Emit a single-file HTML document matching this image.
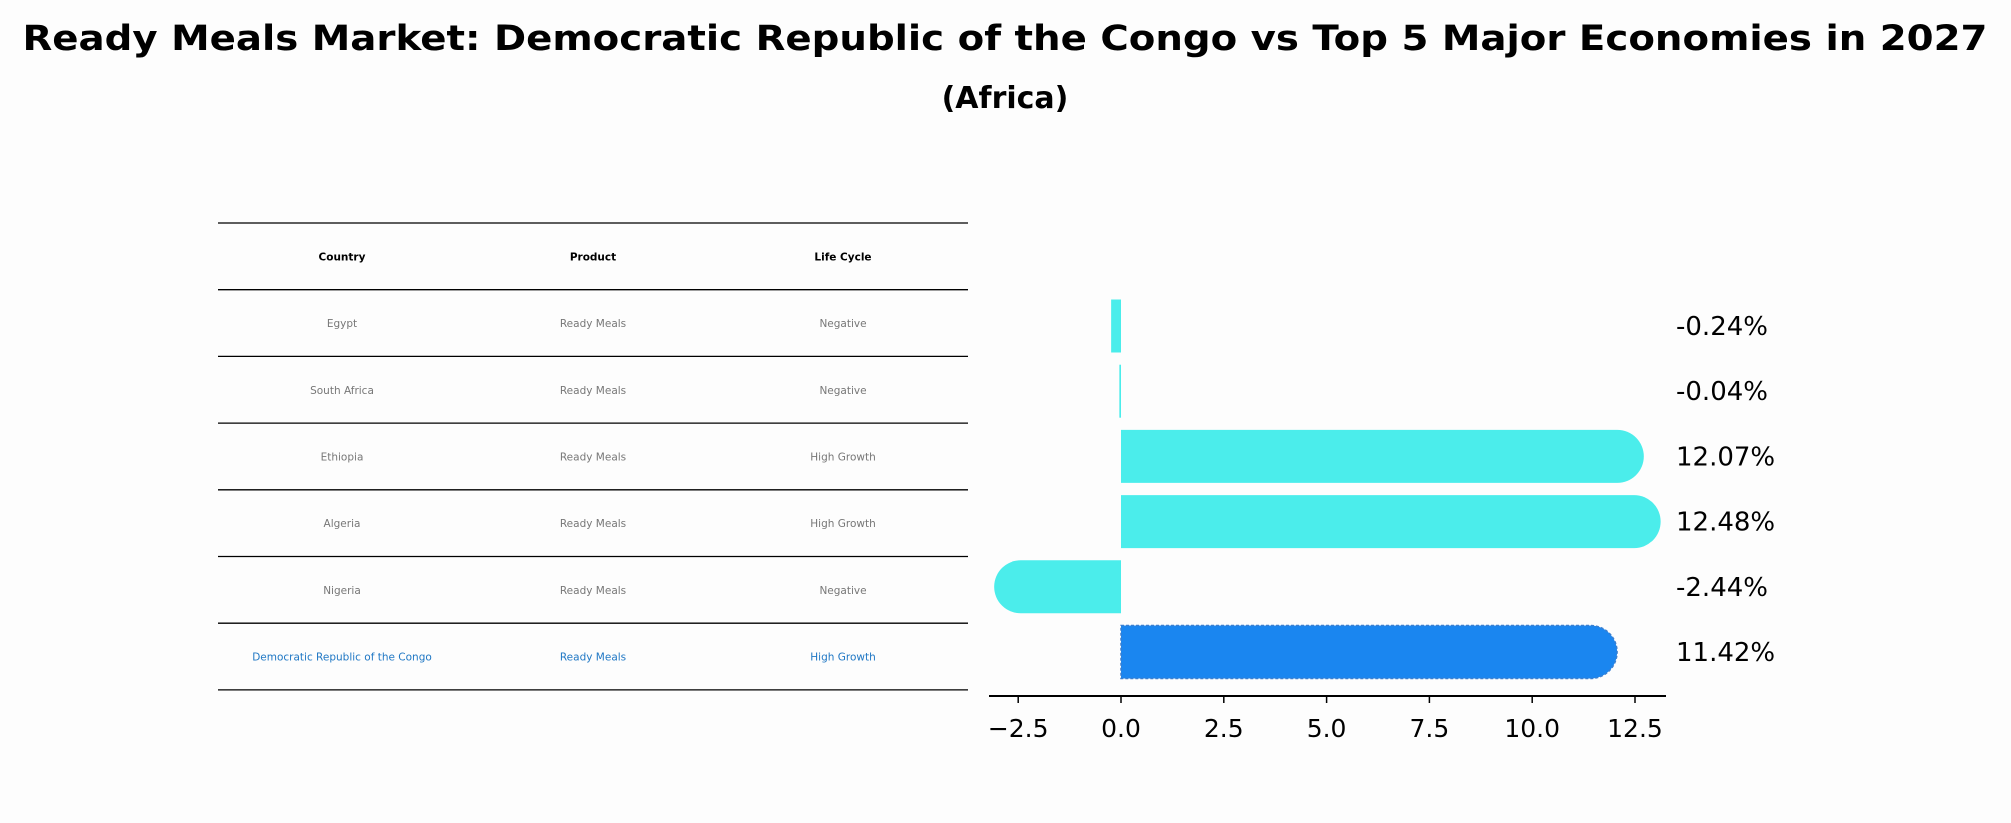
<!DOCTYPE html>
<html><head><meta charset="utf-8"><style>
body{margin:0;background:#fdfdfd;}
svg{display:block;font-family:"DejaVu Sans","Liberation Sans",sans-serif;}
</style></head><body>
<svg id="chart" width="2011" height="823" viewBox="0 0 2011 823" xmlns="http://www.w3.org/2000/svg">
<rect width="2011" height="823" fill="#fdfdfd"/>
<text x="1005" y="50" text-anchor="middle" font-size="35" font-weight="bold" textLength="1965" lengthAdjust="spacingAndGlyphs">Ready Meals Market: Democratic Republic of the Congo vs Top 5 Major Economies in 2027</text>
<text x="1005" y="108" text-anchor="middle" font-size="30" font-weight="bold">(Africa)</text>
<g id="table"></g>
<g id="bars"></g>
</svg>
<script>
const countries=["Egypt","South Africa","Ethiopia","Algeria","Nigeria","Democratic Republic of the Congo"];
const products=["Ready Meals","Ready Meals","Ready Meals","Ready Meals","Ready Meals","Ready Meals"];
const lifeCycles=["Negative","Negative","High Growth","High Growth","Negative","High Growth"];
const values=[-0.24,-0.04,12.07,12.48,-2.44,11.42];
const valueLabels=["-0.24%","-0.04%","12.07%","12.48%","-2.44%","11.42%"];
const ticks=[-2.5,0,2.5,5,7.5,10,12.5];
const tickLabels=["\u22122.5","0.0","2.5","5.0","7.5","10.0","12.5"];

const NS="http://www.w3.org/2000/svg";
function mk(tag,attrs,parent,text){const e=document.createElementNS(NS,tag);for(const k in attrs)e.setAttribute(k,attrs[k]);if(text!==undefined)e.textContent=text;parent.appendChild(e);return e;}

// table
const tg=document.getElementById('table');
const tx0=218,tx1=968,ty0=223,rowH=66.7;
const colX=[342,593,843];
for(let i=0;i<=countries.length+1;i++){
  const l=mk('line',{x1:tx0,x2:tx1,y1:ty0+i*rowH,y2:ty0+i*rowH,stroke:'#000','stroke-width':1.3},tg);
  
  
}
const heads=["Country","Product","Life Cycle"];
heads.forEach((h,j)=>{
  const t=mk('text',{x:colX[j],y:ty0+rowH/2+4,'text-anchor':'middle','font-size':10.5,'font-weight':'bold'},tg,h);
  
  
});
countries.forEach((c,i)=>{
  const last=i===countries.length-1;
  const col=last?'#1f77c4':'#777';
  const cy=ty0+(i+1.5)*rowH+4;
  [c,products[i],lifeCycles[i]].forEach((v,j)=>{
    const t=mk('text',{x:colX[j],y:cy,'text-anchor':'middle','font-size':10.5,fill:col},tg,v);
    
    
  });
});

// bars
const bg=document.getElementById('bars');
const x0px=1121,unit=41.12;
const X=v=>x0px+v*unit;
const rowY0=326,rowStep=65.2,barH=53;
const Y=i=>rowY0+i*rowStep;
values.forEach((v,i)=>{
  const last=i===values.length-1;
  const fill=last?'#1a86f0':'#4bedeb';
  const cy=Y(i),r=barH/2;
  const xa=Math.min(X(0),X(v)),xb=Math.max(X(0),X(v));
  let d;
  if(Math.abs(v)>1){
    if(v>0) d=`M${xa},${cy-r}H${xb}A${r},${r} 0 0 1 ${xb},${cy+r}H${xa}Z`;
    else d=`M${xb},${cy-r}H${xa}A${r},${r} 0 0 0 ${xa},${cy+r}H${xb}Z`;
  } else d=`M${xa},${cy-r}H${Math.max(xb,xa+1.5)}V${cy+r}H${xa}Z`;
  const p=mk('path',{d:d,fill:fill},bg);
  if(last){p.setAttribute('stroke','#3a7fd0');p.setAttribute('stroke-width',1.5);p.setAttribute('stroke-dasharray','3 2');}
  
  
  const t=mk('text',{x:1676,y:cy+9,'font-size':26},bg,valueLabels[i]);
  
  
});
const ax=mk('line',{x1:989,x2:1666,y1:696,y2:696,stroke:'#000','stroke-width':2},bg);


ticks.forEach((t,i)=>{
  const tk=mk('line',{x1:X(t),x2:X(t),y1:696,y2:703,stroke:'#000','stroke-width':1.5},bg);
  
  
  const lb=mk('text',{x:X(t),y:737,'text-anchor':'middle','font-size':25},bg,tickLabels[i]);
  
  
});
</script>
</body></html>
